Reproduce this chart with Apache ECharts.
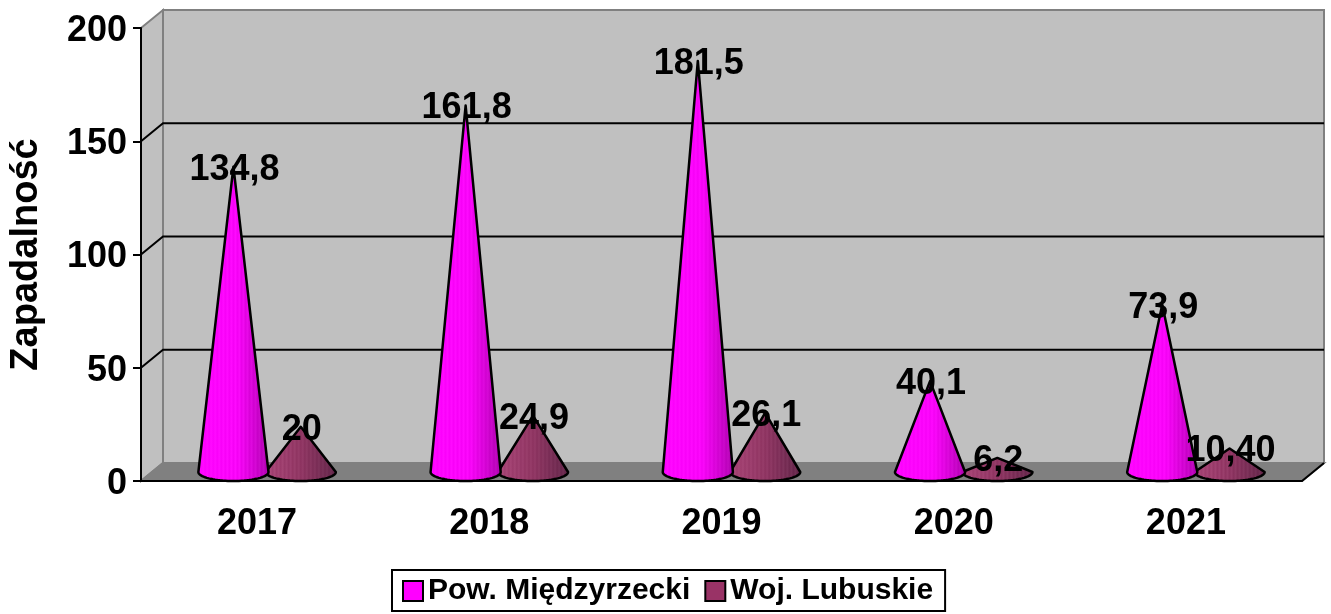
<!DOCTYPE html>
<html>
<head>
<meta charset="utf-8">
<script src="https://cdn.jsdelivr.net/npm/echarts@6/dist/echarts.min.js"></script>
<style>
html, body { margin: 0; padding: 0; background: #fff; }
#chart { width: 1331px; height: 614px; }
</style>
</head>
<body>
<div id="chart"></div>
<script>
const years = ['2017', '2018', '2019', '2020', '2021']
const powValues = [134.8, 161.8, 181.5, 40.1, 73.9]
const wojValues = [20, 24.9, 26.1, 6.2, 10.4]
const powLabels = ['134,8', '161,8', '181,5', '40,1', '73,9']
const wojLabels = ['20', '24,9', '26,1', '6,2', '10,40']
const gridValues = [50, 100, 150]

const FONT = '"Liberation Sans", Arial, sans-serif'
const DX = 22 // depth of the fake 3d box
const DY = -18

// vertical stripes like the old office cone fill
function coneFill(stops) {
  const colorStops = []
  const n = 36
  for (let i = 0; i <= n; i++) {
    const t = i / n
    let k = 0
    while (k < stops.length - 2 && t > stops[k + 1][0]) k++
    const a = stops[k]
    const b = stops[k + 1]
    const f = (t - a[0]) / (b[0] - a[0])
    const c = [1, 2, 3].map(j => Math.round(a[j] + (b[j] - a[j]) * f + (i % 2 ? 10 : 0)))
    colorStops.push({ offset: t, color: 'rgb(' + c.map(v => Math.min(v, 255)).join(',') + ')' })
  }
  return new echarts.graphic.LinearGradient(0, 0, 1, 0, colorStops)
}

const powFill = coneFill([[0, 255, 0, 255], [0.55, 245, 0, 245], [0.8, 205, 0, 205], [1, 170, 0, 170]])
const wojFill = coneFill([[0, 165, 65, 115], [0.5, 140, 50, 95], [1, 95, 35, 70]])

function coneSeries(name, values, labels, fill, legendColor, sign, z2) {
  return {
    name,
    type: 'custom',
    z: 5,
    clip: false,
    itemStyle: { color: legendColor },
    encode: { x: 0, y: 1 },
    data: values.map((v, i) => [i, v]),
    renderItem(params, api) {
      const idx = api.value(0)
      const tip = api.coord([idx, api.value(1)])
      const base = api.coord([idx, 0])
      const band = api.size([1, 0])[0]
      const cx = base[0] + DX / 2 - 1 + sign * band * 0.145
      const cy = base[1] + DY / 2
      const rx = band * 0.151
      const ry = 9
      const ay = tip[1] + DY / 2
      const pts = [[cx, ay]]
      for (let a = 0; a <= 40; a++) {
        const t = Math.PI * a / 40
        pts.push([cx - rx * Math.cos(t), cy + ry * Math.sin(t)])
      }
      return {
        type: 'group',
        children: [
          {
            type: 'polygon',
            z2,
            shape: { points: pts },
            style: { fill, stroke: '#000', lineWidth: 2.5, lineJoin: 'round' }
          },
          {
            type: 'text',
            z2: 20,
            x: cx + 1,
            y: ay + 3,
            style: {
              text: labels[idx],
              align: 'center',
              verticalAlign: 'middle',
              font: 'bold 36px ' + FONT,
              fill: '#000'
            }
          }
        ]
      }
    }
  }
}

const chart = echarts.init(document.getElementById('chart'), null, { renderer: 'canvas' })

chart.setOption({
  animation: false,
  backgroundColor: '#fff',
  grid: { left: 141, right: 29, top: 28, bottom: 133, outerBoundsMode: 'none' },
  legend: {
    left: 392,
    top: 570,
    data: ['Pow. Międzyrzecki', 'Woj. Lubuskie'],
    icon: 'rect',
    itemWidth: 20,
    itemHeight: 20,
    itemGap: 14,
    padding: [6, 12, 5, 10],
    borderColor: '#000',
    borderWidth: 2,
    selectedMode: false,
    itemStyle: { borderColor: '#000', borderWidth: 2 },
    textStyle: { fontFamily: FONT, fontWeight: 'bold', fontSize: 30, color: '#000' }
  },
  xAxis: {
    type: 'category',
    data: years,
    z: 3,
    axisLine: { lineStyle: { color: '#000', width: 2 } },
    axisTick: { length: 9, lineStyle: { color: '#000', width: 2 } },
    axisLabel: { margin: 25, fontFamily: FONT, fontWeight: 'bold', fontSize: 36, color: '#000' }
  },
  yAxis: {
    type: 'value',
    min: 0,
    max: 200,
    interval: 50,
    z: 3,
    name: 'Zapadalność',
    nameLocation: 'middle',
    nameRotate: 90,
    nameGap: 95,
    nameTextStyle: { fontFamily: FONT, fontWeight: 'bold', fontSize: 38, color: '#000' },
    axisLine: { show: true, lineStyle: { color: '#000', width: 2 } },
    axisTick: { show: true, length: 8, lineStyle: { color: '#000', width: 2 } },
    axisLabel: {
      margin: 14,
      formatter: '{t|{value}}',
      rich: { t: { padding: [6, 0, 0, 0], fontFamily: FONT, fontWeight: 'bold', fontSize: 36, color: '#000' } }
    },
    splitLine: { show: false }
  },
  series: [
    {
      // back wall, side wall and floor
      type: 'custom',
      z: 1,
      silent: true,
      clip: false,
      data: [[0, 0]],
      encode: { x: 0, y: 1 },
      renderItem(params) {
        const r = params.coordSys
        const l = r.x
        const t = r.y
        const rt = r.x + r.width
        const b = r.y + r.height
        const edge = { stroke: '#808080', lineWidth: 2 }
        return {
          type: 'group',
          children: [
            { type: 'polygon', shape: { points: [[l, t], [l + DX, t + DY], [l + DX, b + DY], [l, b]] }, style: { fill: '#c0c0c0', ...edge } },
            { type: 'polygon', shape: { points: [[l + DX, t + DY], [rt + DX, t + DY], [rt + DX, b + DY], [l + DX, b + DY]] }, style: { fill: '#c0c0c0', ...edge } },
            { type: 'polygon', shape: { points: [[l, b], [l + DX, b + DY], [rt + DX, b + DY], [rt, b]] }, style: { fill: '#808080', ...edge } },
            { type: 'line', shape: { x1: rt, y1: b, x2: rt + DX, y2: b + DY }, style: { stroke: '#000', lineWidth: 2 } }
          ]
        }
      }
    },
    {
      // gridlines run over the side wall and the back wall
      type: 'custom',
      z: 2,
      silent: true,
      clip: false,
      data: gridValues.map(v => [0, v]),
      encode: { x: 0, y: 1 },
      renderItem(params, api) {
        const r = params.coordSys
        const y = api.coord([0, api.value(1)])[1]
        return {
          type: 'polyline',
          shape: { points: [[r.x, y], [r.x + DX, y + DY], [r.x + r.width + DX, y + DY]] },
          style: { stroke: '#000', lineWidth: 2, fill: null }
        }
      }
    },
    coneSeries('Woj. Lubuskie', wojValues, wojLabels, wojFill, '#993366', 1, 1),
    coneSeries('Pow. Międzyrzecki', powValues, powLabels, powFill, '#ff00ff', -1, 2)
  ]
})
</script>
</body>
</html>
